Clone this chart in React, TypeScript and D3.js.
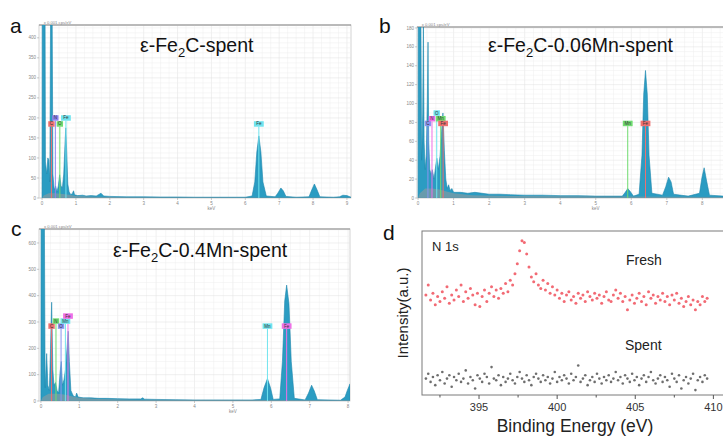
import React from "react";
import * as d3 from "d3";

const FONT = "Liberation Sans, Arial, sans-serif";

// ---- EDS spectra, [keV, counts (x0.001 cps/eV)] ----
const specA: [number, number][] = [
  [0, 0], [0.005, 440], [0.09, 440], [0.1, 90], [0.14, 60], [0.17, 100], [0.2, 95], [0.23, 40],
  [0.25, 440], [0.3, 440], [0.32, 60], [0.36, 20], [0.4, 30], [0.44, 15], [0.48, 30], [0.52, 58],
  [0.56, 30], [0.6, 25], [0.64, 60], [0.68, 140], [0.7, 175], [0.73, 110], [0.76, 35], [0.8, 15],
  [0.85, 8], [0.9, 12], [0.93, 18], [0.96, 8], [1.05, 6], [1.2, 7], [1.3, 5], [1.45, 6], [1.6, 5],
  [1.68, 9], [1.74, 12], [1.82, 5], [2.0, 4], [2.5, 3], [3, 3], [3.5, 2.5], [4, 2.5], [4.5, 2], [5, 2],
  [5.5, 2], [6.0, 2], [6.2, 5], [6.28, 40], [6.34, 115], [6.4, 155], [6.46, 115], [6.52, 40], [6.62, 5],
  [6.88, 3], [6.96, 12], [7.05, 25], [7.12, 18], [7.2, 4], [7.5, 2], [7.88, 3], [7.96, 20], [8.04, 35],
  [8.12, 20], [8.2, 3], [8.6, 2], [8.78, 3], [8.88, 7], [9.0, 6], [9.12, 2],
];
const bgA: [number, number][] = [
  [0, 0], [0.05, 6], [0.2, 12], [0.4, 12], [0.6, 10], [0.8, 8], [1.0, 5], [1.5, 3], [2.5, 2], [9.12, 1],
];

const specB: [number, number][] = [
  [0, 0], [0.005, 190], [0.08, 190], [0.1, 40], [0.13, 90], [0.15, 190], [0.17, 60], [0.2, 30],
  [0.23, 45], [0.26, 100], [0.28, 165], [0.3, 60], [0.33, 30], [0.37, 25], [0.4, 30], [0.45, 20],
  [0.5, 35], [0.53, 42], [0.57, 30], [0.62, 45], [0.66, 70], [0.7, 90], [0.74, 50], [0.78, 20],
  [0.82, 10], [0.86, 14], [0.9, 8], [0.95, 10], [1.0, 6], [1.2, 6], [1.4, 5], [1.6, 6], [1.8, 5],
  [2.0, 4], [2.3, 4], [2.6, 3.5], [3, 3], [3.5, 3], [4, 2.5], [4.5, 2.5], [5, 2], [5.5, 2], [5.75, 2],
  [5.83, 6], [5.9, 10], [5.97, 7], [6.06, 2], [6.22, 4], [6.3, 45], [6.35, 110], [6.4, 135],
  [6.45, 110], [6.5, 45], [6.58, 5], [6.88, 3], [6.97, 12], [7.05, 22], [7.12, 17], [7.19, 4],
  [7.6, 2], [7.92, 5], [7.99, 22], [8.05, 32], [8.12, 18], [8.2, 3], [8.6, 2], [9.2, 2],
];
const bgB: [number, number][] = [
  [0, 0], [0.05, 5], [0.2, 10], [0.4, 10], [0.6, 9], [0.8, 7], [1.0, 5], [1.5, 3], [2.5, 2], [9.2, 1],
];

const specC: [number, number][] = [
  [0, 0], [0.005, 700], [0.09, 700], [0.11, 50], [0.15, 180], [0.18, 60], [0.22, 40], [0.25, 200],
  [0.28, 375], [0.31, 120], [0.34, 60], [0.38, 70], [0.42, 40], [0.46, 30], [0.5, 110], [0.53, 150],
  [0.56, 60], [0.6, 80], [0.64, 120], [0.68, 200], [0.71, 265], [0.74, 150], [0.78, 40], [0.84, 20],
  [0.9, 15], [0.93, 30], [0.97, 15], [1.1, 12], [1.3, 12], [1.5, 10], [1.7, 10], [2, 9], [2.3, 8],
  [2.6, 8], [2.65, 12], [2.7, 7], [3, 6], [3.5, 5], [4, 4], [4.5, 4], [5, 4], [5.5, 4], [5.73, 6],
  [5.81, 50], [5.9, 85], [5.98, 50], [6.05, 6], [6.22, 8], [6.29, 150], [6.35, 380], [6.4, 440],
  [6.46, 370], [6.52, 150], [6.6, 10], [6.88, 4], [6.97, 30], [7.05, 60], [7.12, 38], [7.2, 5],
  [7.8, 3], [7.92, 15], [7.98, 40], [8.05, 65],
];
const bgC: [number, number][] = [
  [0, 0], [0.05, 15], [0.2, 28], [0.4, 28], [0.6, 25], [0.8, 18], [1.0, 12], [1.5, 8], [2.5, 5], [8.05, 3],
];

// element markers: label, energy (keV), label level (counts), colour
type Marker = { el: string; e: number; lv: number; c: string };
const RED = "#ee7070", PURPLE = "#8c82ee", GREEN = "#70dc70", CYAN = "#70e4ee", MAGENTA = "#ee70e6", BLUE = "#8a96f0";
const markersA: Marker[] = [
  { el: "C", e: 0.277, lv: 178, c: RED }, { el: "N", e: 0.392, lv: 193, c: PURPLE },
  { el: "O", e: 0.525, lv: 178, c: GREEN }, { el: "Fe", e: 0.705, lv: 193, c: CYAN },
  { el: "Fe", e: 6.4, lv: 178, c: CYAN },
];
const markersB: Marker[] = [
  { el: "C", e: 0.277, lv: 76, c: BLUE }, { el: "N", e: 0.392, lv: 81, c: MAGENTA },
  { el: "O", e: 0.525, lv: 87, c: CYAN }, { el: "Mn", e: 0.637, lv: 81, c: GREEN },
  { el: "Fe", e: 0.705, lv: 76, c: RED }, { el: "Mn", e: 5.9, lv: 76, c: GREEN },
  { el: "Fe", e: 6.4, lv: 76, c: RED },
];
const markersC: Marker[] = [
  { el: "C", e: 0.277, lv: 274, c: RED }, { el: "N", e: 0.392, lv: 293, c: GREEN },
  { el: "O", e: 0.525, lv: 274, c: BLUE }, { el: "Mn", e: 0.637, lv: 293, c: CYAN },
  { el: "Fe", e: 0.705, lv: 312, c: MAGENTA }, { el: "Mn", e: 5.9, lv: 274, c: CYAN },
  { el: "Fe", e: 6.4, lv: 274, c: MAGENTA },
];

// ---- XPS N 1s ----
const xpsStart = 391.6;
const xpsStep = 0.15;
const fresh = [
  61, 67, 58, 62, 55, 60, 57, 63, 59, 66, 56, 61, 58, 64, 60, 67, 57, 63, 59, 65,
  61, 55, 62, 54, 60, 64, 57, 62, 66, 60, 64, 59, 65, 62, 68, 63, 70, 67, 74, 80,
  88, 94, 93, 86, 78, 72, 69, 74, 67, 65, 70, 64, 68, 62, 66, 61, 64, 59, 62, 57,
  61, 63, 58, 60, 56, 62, 59, 61, 57, 63, 60, 58, 62, 59, 61, 56, 60, 63, 58, 57,
  61, 64, 59, 62, 57, 60, 52, 58, 61, 56, 59, 62, 57, 60, 55, 63, 59, 61, 56, 60,
  58, 62, 57, 60, 55, 61, 58, 62, 56, 59, 54, 57, 60, 55, 58, 52, 57, 55, 60, 57,
  59,
];
const spent = [
  10, 13, 8, 11, 6, 12, 9, 14, 7, 10, 12, 5, 11, 9, 13, 8, 10, 15, 7, 11,
  9, 4, 12, 10, 8, 13, 11, 7, 17, 10, 9, 12, 6, 11, 8, 10, 13, 9, 7, 11,
  14, 10, 8, 12, 9, 6, 11, 13, 10, 8, 12, 9, 11, 7, 10, 14, 8, 11, 9, 12,
  10, 7, 13, 9, 11, 18, 8, 10, 12, 6, 9, 11, 8, 13, 10, 7, 11, 9, 12, 8,
  10, 14, 9, 11, 7, 12, 10, 8, 13, 9, 11, 6, 10, 12, 8, 11, 14, 9, 7, 10,
  12, 8, 11, 9, 5, 13, 10, 8, 12, 4, 9, 11, 7, 10, 13, 3, 9, 11, 8, 12,
  10,
];
const xpsTicks = [395, 400, 405, 410];
const xpsMinor = [392.5, 397.5, 402.5, 407.5];

type EdsProps = {
  id: string; left: number; right: number; top: number; bottom: number;
  xDomain: [number, number]; yMax: number; yStep: number; xMaxTick: number;
  spec: [number, number][]; bg: [number, number][]; markers: Marker[];
  formula: string; titleX: number; titleY: number;
  letter: string; letterX: number; letterY: number;
};

function EdsPanel(p: EdsProps) {
  const x = d3.scaleLinear().domain(p.xDomain).range([p.left, p.right]);
  const y = d3.scaleLinear().domain([0, p.yMax]).range([p.bottom, p.top]);
  const area = d3.area<[number, number]>().x(d => x(d[0])).y0(y(0)).y1(d => y(d[1]));
  const yTicks = d3.range(0, p.yMax + 0.01, p.yStep);
  const xTicks = d3.range(0, p.xMaxTick + 1, 1);
  const gridX = d3.range(0, p.xDomain[1], 0.25);
  const gridY = d3.range(0, p.yMax, p.yStep / 4);
  return (
    <g fontFamily={FONT}>
      <defs>
        <clipPath id={p.id}>
          <rect x={p.left} y={p.top} width={p.right - p.left} height={p.bottom - p.top} />
        </clipPath>
      </defs>
      <rect x={p.left} y={p.top} width={p.right - p.left} height={p.bottom - p.top} fill="#fff" stroke="#c8c8c8" strokeWidth={0.8} />
      {gridX.map((v, i) => (
        <line key={"gx" + i} x1={x(v)} x2={x(v)} y1={p.top} y2={p.bottom} stroke={i % 4 === 0 ? "#e0e0e0" : "#efefef"} strokeWidth={0.5} />
      ))}
      {gridY.map((v, i) => (
        <line key={"gy" + i} x1={p.left} x2={p.right} y1={y(v)} y2={y(v)} stroke={i % 4 === 0 ? "#e0e0e0" : "#efefef"} strokeWidth={0.5} />
      ))}
      <line x1={p.left} x2={p.right} y1={p.top} y2={p.top} stroke="#8a8a8a" strokeWidth={1} />
      <g clipPath={`url(#${p.id})`}>
        <path d={area(p.spec) || ""} fill="#2b9cc2" stroke="#1d86ad" strokeWidth={0.6} />
        <path d={area(p.bg) || ""} fill="#9a9a9a" fillOpacity={0.55} />
        {p.markers.map((m, i) => (
          <line key={"ml" + i} x1={x(m.e)} x2={x(m.e)} y1={y(m.lv)} y2={y(0)} stroke={m.c} strokeWidth={1} />
        ))}
      </g>
      {p.markers.map((m, i) => {
        const w = m.el.length * 3.4 + 3;
        return (
          <g key={"mb" + i}>
            <rect x={x(m.e) - w / 2} y={y(m.lv) - 5.5} width={w} height={5.5} fill={m.c} />
            <text x={x(m.e)} y={y(m.lv) - 1.3} fontSize={4.5} textAnchor="middle" fill="#333">{m.el}</text>
          </g>
        );
      })}
      {yTicks.map(v => (
        <g key={"yt" + v}>
          <line x1={p.left - 2} x2={p.left} y1={y(v)} y2={y(v)} stroke="#999" strokeWidth={0.5} />
          <text x={p.left - 3} y={y(v) + 1.6} fontSize={4.5} textAnchor="end" fill="#888">{v}</text>
        </g>
      ))}
      {xTicks.map(v => (
        <g key={"xt" + v}>
          <line x1={x(v)} x2={x(v)} y1={p.bottom} y2={p.bottom + 2} stroke="#999" strokeWidth={0.5} />
          <text x={x(v)} y={p.bottom + 7} fontSize={4.5} textAnchor="middle" fill="#888">{v}</text>
        </g>
      ))}
      <text x={x(p.xDomain[0] + 0.05) + 3} y={p.top - 1.5} fontSize={4.2} fill="#888">x 0.001 cps/eV</text>
      <text x={x(5)} y={p.bottom + 12} fontSize={4.5} textAnchor="middle" fill="#888">keV</text>
      <text x={p.titleX} y={p.titleY} fontSize={19.5} fill="#111">
        ε-Fe<tspan fontSize={13} dy={4.5}>2</tspan><tspan dy={-4.5}>C{p.formula}</tspan>
      </text>
      <text x={p.letterX} y={p.letterY} fontSize={21} fill="#111">{p.letter}</text>
    </g>
  );
}

function XpsPanel() {
  const left = 422, right = 729, top = 231, bottom = 395;
  const x = d3.scaleLinear().domain([391.35, 411]).range([left, right]);
  const y = d3.scaleLinear().domain([0, 100]).range([bottom, top]);
  const ex = (i: number) => xpsStart + i * xpsStep;
  return (
    <g fontFamily={FONT}>
      <rect x={left} y={top} width={right - left} height={bottom - top} fill="#fff" stroke="#7a7a7a" strokeWidth={1} />
      {fresh.map((v, i) => (
        <circle key={"f" + i} cx={x(ex(i))} cy={y(v)} r={1.5} fill="#f0505c" fillOpacity={0.85} />
      ))}
      {spent.map((v, i) => (
        <circle key={"s" + i} cx={x(ex(i))} cy={y(v)} r={1.3} fill="#555" fillOpacity={0.85} />
      ))}
      {xpsTicks.map(v => (
        <g key={"t" + v}>
          <line x1={x(v)} x2={x(v)} y1={bottom} y2={bottom + 4} stroke="#555" strokeWidth={1} />
          <text x={x(v)} y={bottom + 16} fontSize={11} textAnchor="middle" fill="#333">{v}</text>
        </g>
      ))}
      {xpsMinor.map(v => (
        <line key={"m" + v} x1={x(v)} x2={x(v)} y1={bottom} y2={bottom + 2.5} stroke="#555" strokeWidth={1} />
      ))}
      <text x={432} y={251} fontSize={13} fill="#222">N 1s</text>
      <text x={626} y={265} fontSize={14} fill="#222">Fresh</text>
      <text x={625} y={350} fontSize={14} fill="#222">Spent</text>
      <text transform={`translate(408,${(top + bottom) / 2}) rotate(-90)`} fontSize={15} textAnchor="middle" fill="#222">Intensity(a.u.)</text>
      <text x={575} y={432} fontSize={17.5} textAnchor="middle" fill="#222">Binding Energy (eV)</text>
      <text x={383} y={240} fontSize={21} fill="#111">d</text>
    </g>
  );
}

export default function App() {
  return (
    <div style={{ position: "absolute", left: 0, top: 0 }}>
      <svg width={723} height={436} style={{ display: "block", background: "#fff" }}>
        <EdsPanel id="clipA" left={39} right={351} top={25} bottom={198} xDomain={[-0.09, 9.12]}
          yMax={432} yStep={50} xMaxTick={9} spec={specA} bg={bgA} markers={markersA}
          formula="-spent" titleX={140} titleY={52} letter="a" letterX={10} letterY={33} />
        <EdsPanel id="clipB" left={417} right={745} top={27} bottom={198} xDomain={[-0.03, 9.2]}
          yMax={181} yStep={20} xMaxTick={8} spec={specB} bg={bgB} markers={markersB}
          formula="-0.06Mn-spent" titleX={488} titleY={52} letter="b" letterX={379} letterY={33} />
        <EdsPanel id="clipC" left={39} right={350} top={229} bottom={401} xDomain={[-0.05, 8.05]}
          yMax={653} yStep={100} xMaxTick={8} spec={specC} bg={bgC} markers={markersC}
          formula="-0.4Mn-spent" titleX={113} titleY={257} letter="c" letterX={11} letterY={236} />
        <XpsPanel />
      </svg>
    </div>
  );
}
